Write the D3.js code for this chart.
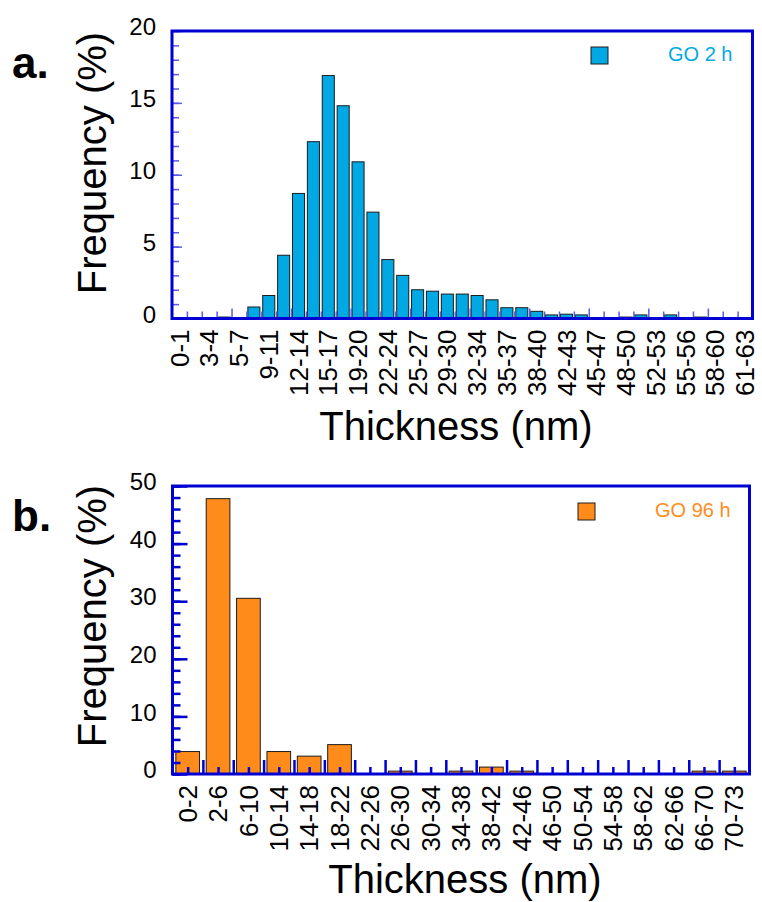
<!DOCTYPE html>
<html>
<head>
<meta charset="utf-8">
<script src="https://cdn.jsdelivr.net/npm/d3@7"></script>
<style>
  body { margin: 0; background: #fff; }
  text { font-family: "Liberation Sans", Arial, sans-serif; }
</style>
</head>
<body>
<div id="viz"></div>
<script>

// data

const labelsA = ["0-1", "3-4", "5-7", "9-11", "12-14", "15-17", "19-20", "22-24", "25-27", "29-30",
                 "32-34", "35-37", "38-40", "42-43", "45-47", "48-50", "52-53", "55-56", "58-60", "61-63"];
const valuesA = [0, 0, 0, 0.1, 0, 0.8, 1.6, 4.4, 8.7, 12.3,
                 16.9, 14.8, 10.9, 7.4, 4.1, 3.0, 2.0, 1.9, 1.7, 1.7,
                 1.6, 1.3, 0.75, 0.75, 0.5, 0.25, 0.3, 0.25, 0, 0,
                 0.1, 0.25, 0, 0.25, 0, 0.1, 0, 0, 0];
const yTicksA = [0, 5, 10, 15, 20];

const labelsB = ["0-2", "2-6", "6-10", "10-14", "14-18", "18-22", "22-26", "26-30", "30-34", "34-38",
                 "38-42", "42-46", "46-50", "50-54", "54-58", "58-62", "62-66", "66-70", "70-73"];
const valuesB = [3.9, 47.8, 30.5, 3.9, 3.1, 5.1, 0, 0.5, 0, 0.5,
                 1.2, 0.5, 0, 0, 0, 0, 0, 0.5, 0.5];
const yTicksB = [0, 10, 20, 30, 40, 50];

// canvas

const svg = d3.select("#viz")
  .append("svg")
    .attr("width", 762)
    .attr("height", 902);

const frameColor = "#0000d2";

function drawPanel(p) {

  const n = p.values.length;

  const x = d3.scaleBand()
    .domain(d3.range(n))
    .range([p.left, p.right])
    .padding(0);

  const xLin = d3.scaleLinear()
    .domain([0, n])
    .range([p.left, p.right]);

  const y = d3.scaleLinear()
    .domain([0, p.yMax])
    .range([p.bottom, p.top]);

  const g = svg.append("g");

  // bars (empty bins are skipped, bin index kept)
  const bins = p.values.map((v, i) => ({ i, v })).filter(d => d.v > 0);
  const bw = x.bandwidth() * p.barFrac;
  g.selectAll("rect.bar")
    .data(bins)
    .join("rect")
      .attr("class", "bar")
      .attr("x", d => x(d.i) + (x.bandwidth() - bw) / 2)
      .attr("width", bw)
      .attr("y", d => y(d.v))
      .attr("height", d => y(0) - y(d.v))
      .attr("fill", p.color)
      .attr("stroke", "#1c1c1c")
      .attr("stroke-width", 1);

  // y ticks, pointing inward
  const yMinor = d3.range(0, p.yMax + 0.001, p.yMinorStep);
  const yAxMinor = g.append("g")
    .attr("transform", `translate(${p.left},0)`)
    .call(d3.axisRight(y).tickValues(yMinor).tickSize(p.yMinorLen).tickFormat(""));
  const yAxMajor = g.append("g")
    .attr("transform", `translate(${p.left},0)`)
    .call(d3.axisRight(y).tickValues(p.yTicks).tickSize(p.yMajorLen).tickFormat(""));
  [yAxMinor, yAxMajor].forEach(a => {
    a.select(".domain").remove();
    a.selectAll("line").attr("stroke", p.tickColor).attr("stroke-width", p.tickWidth);
  });

  // y labels
  const yLab = g.append("g")
    .attr("transform", `translate(${p.left - 16},0)`)
    .call(d3.axisLeft(y).tickValues(p.yTicks).tickSize(0).tickPadding(0));
  yLab.select(".domain").remove();
  yLab.selectAll("text")
    .attr("font-family", "Liberation Sans, Arial, sans-serif")
    .attr("font-size", 24)
    .attr("fill", "#000")
    .attr("dy", "0.15em");

  // x ticks, pointing inward
  const xAxes = [];
  xAxes.push(g.append("g")
    .attr("transform", `translate(0,${p.bottom})`)
    .call(d3.axisTop(xLin).tickValues(p.xShort).tickSize(p.xShortLen).tickFormat("")));
  xAxes.push(g.append("g")
    .attr("transform", `translate(0,${p.bottom})`)
    .call(d3.axisTop(xLin).tickValues(p.xTall).tickSize(p.xTallLen).tickFormat("")));
  xAxes.forEach(a => {
    a.select(".domain").remove();
    a.selectAll("line").attr("stroke", p.tickColor).attr("stroke-width", p.tickWidth);
  });

  // x labels, rotated
  const labIdx = d3.range(0, n, p.labelEvery);
  const xLab = g.append("g")
    .attr("transform", `translate(0,${p.bottom})`)
    .call(d3.axisBottom(x).tickValues(labIdx).tickSize(0)
      .tickFormat(i => p.labels[i / p.labelEvery]));
  xLab.select(".domain").remove();
  xLab.selectAll("text")
    .attr("font-family", "Liberation Sans, Arial, sans-serif")
    .attr("font-size", 26)
    .attr("fill", "#000")
    .attr("transform", "rotate(-90)")
    .attr("text-anchor", "end")
    .attr("x", -11)
    .attr("y", 0)
    .attr("dy", "0.35em");

  // frame
  g.append("rect")
    .attr("x", p.left)
    .attr("y", p.top)
    .attr("width", p.right - p.left)
    .attr("height", p.bottom - p.top)
    .attr("fill", "none")
    .attr("stroke", frameColor)
    .attr("stroke-width", 3);

  // titles
  g.append("text")
    .attr("transform", `translate(${p.yTitleX},${p.yTitleY}) rotate(-90)`)
    .attr("text-anchor", "middle")
    .attr("font-size", 40)
    .text("Frequency (%)");

  g.append("text")
    .attr("x", p.xTitleX)
    .attr("y", p.xTitleY)
    .attr("text-anchor", "middle")
    .attr("font-size", 40)
    .text("Thickness (nm)");

  g.append("text")
    .attr("x", 12)
    .attr("y", p.tagY)
    .attr("font-size", 44)
    .attr("font-weight", "bold")
    .text(p.tag);

  // legend
  g.append("rect")
    .attr("x", p.legX)
    .attr("y", p.legY)
    .attr("width", 17)
    .attr("height", 17)
    .attr("fill", p.color)
    .attr("stroke", "#1c1c1c")
    .attr("stroke-width", 1);

  g.append("text")
    .attr("x", p.legTextX)
    .attr("y", p.legY + 14)
    .attr("font-size", 20)
    .attr("fill", p.color)
    .text(p.legend);
}

drawPanel({
  values: valuesA, labels: labelsA, yTicks: yTicksA, yMax: 20, yMinorStep: 1,
  left: 172, right: 752.5, top: 31, bottom: 318.5,
  color: "#00a9e4", barFrac: 0.81,
  tickColor: "#5a5ae6", tickWidth: 1.5,
  yMinorLen: 7, yMajorLen: 10,
  xShort: d3.range(1, valuesA.length).filter(i => i % 4 !== 0), xShortLen: 7,
  xTall: d3.range(4, valuesA.length, 4), xTallLen: 10,
  labelEvery: 2,
  yTitleX: 106, yTitleY: 163, xTitleX: 456, xTitleY: 440,
  tag: "a.", tagY: 78,
  legX: 591, legY: 47, legTextX: 668, legend: "GO 2 h"
});

drawPanel({
  values: valuesB, labels: labelsB, yTicks: yTicksB, yMax: 50, yMinorStep: 2,
  left: 172.5, right: 749.5, top: 486, bottom: 774,
  color: "#ff8c1a", barFrac: 0.78,
  tickColor: "#0000d2", tickWidth: 2.5,
  yMinorLen: 8, yMajorLen: 15,
  xShort: d3.range(0.5, valuesB.length, 1), xShortLen: 7,
  xTall: d3.range(1, valuesB.length), xTallLen: 14,
  labelEvery: 1,
  yTitleX: 106, yTitleY: 616, xTitleX: 465, xTitleY: 893,
  tag: "b.", tagY: 531,
  legX: 578, legY: 503, legTextX: 655, legend: "GO 96 h"
});

</script>
</body>
</html>
